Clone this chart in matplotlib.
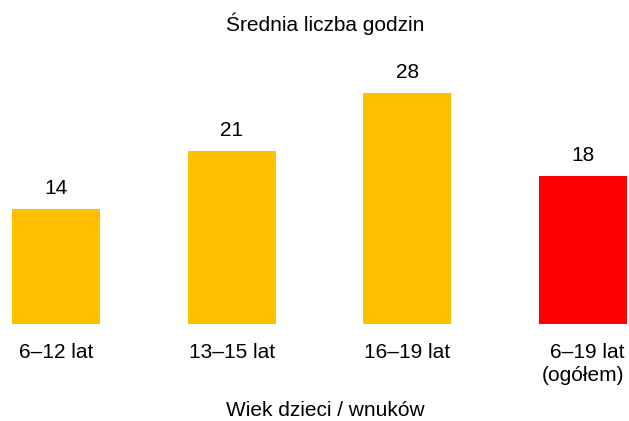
import matplotlib
matplotlib.use("Agg")
import matplotlib.pyplot as plt

categories = ["6–12 lat", "13–15 lat", "16–19 lat", "6–19 lat\n(ogółem)"]
values = [14, 21, 28, 18]
colors = ["#FFC000", "#FFC000", "#FFC000", "#FF0000"]
title = "Średnia liczba godzin"
xlabel = "Wiek dzieci / wnuków"

plt.rcParams['font.family'] = ['Liberation Sans', 'DejaVu Sans']
FS = 15

W, H = 629, 421
fig = plt.figure(figsize=(W / 100, H / 100), dpi=100)
ax = fig.add_axes([12 / W, (H - 324) / H, (627 - 12) / W, (324 - 40) / H])
x = list(range(len(categories)))
bars = ax.bar(x, values, width=0.5, color=colors)
ax.set_xlim(-0.25, 3.25)
ax.set_ylim(0, (324 - 40) / 8.25)
px = 72 / 100
for b, v in zip(bars, values):
    ax.annotate(str(v), (b.get_x() + b.get_width() / 2, v), xytext=(0, 20 * px),
                textcoords='offset points', ha='center', va='center', fontsize=FS)
for xi, lab in zip(x, categories):
    ax.annotate(lab, (xi, 0), xytext=(0, -19 * px), textcoords='offset points',
                ha='center', va='top', fontsize=FS, multialignment='right',
                linespacing=1.25)
for s in ax.spines.values():
    s.set_visible(False)
ax.set_xticks([])
ax.set_yticks([])
fig.text(325 / W, 1 - 24 / H, title, ha='center', va='center', fontsize=FS)
fig.text(325 / W, 1 - 411 / H, xlabel, ha='center', va='center', fontsize=FS)
fig.savefig("out.png", dpi=100)
